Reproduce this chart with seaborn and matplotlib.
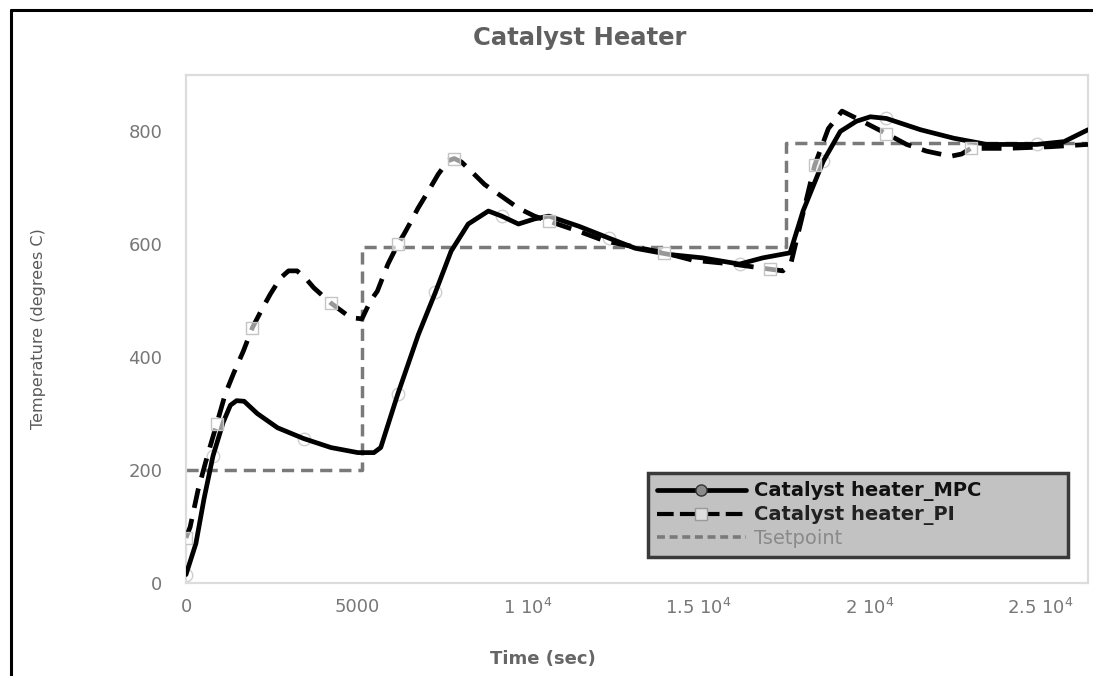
import matplotlib
matplotlib.use("Agg")
import matplotlib.pyplot as plt
from matplotlib.lines import Line2D
import seaborn as sns
import numpy as np

# Catalyst heater temperature response, MPC vs PI control
mpc_time = [0, 290, 530, 790, 1090, 1300, 1480, 1700, 2090, 2680, 3440, 4240,
            5030, 5500, 5700, 6200, 6800, 7300, 7760, 8260, 8850, 9240, 9730,
            10200, 10620, 11500, 12380, 13150, 14150, 15120, 16200, 16880,
            17680, 18060, 18650, 19150, 19620, 20030, 20500, 21500, 22470,
            23440, 24900, 25700, 26300, 26400]
mpc_temp = [15, 70, 150, 225, 285, 315, 323, 322, 300, 275, 256, 240,
            231, 231, 240, 335, 440, 515, 588, 636, 659, 650, 636,
            645, 650, 632, 611, 593, 582, 576, 565, 576,
            585, 659, 747, 800, 818, 826, 823, 803, 788,
            777, 777, 782, 800, 803]

pi_time = [0, 120, 350, 610, 900, 1150, 1390, 1680, 1940, 2240, 2470, 2760,
           3000, 3250, 3500, 3740, 4240, 4820, 5150, 5400, 5600, 5910, 6200,
           6380, 6590, 6790, 7090, 7380, 7670, 7850, 8060, 8270, 8740, 9240,
           9730, 10200, 10620, 11500, 12260, 13000, 14000, 14820, 16000,
           17090, 17470, 17700, 18000, 18400, 18800, 19200, 19700, 20500,
           21090, 21680, 22380, 22700, 22970, 24030, 25320, 26400]
pi_temp = [80, 99, 164, 222, 282, 335, 371, 411, 452, 487, 512, 540,
           553, 553, 540, 523, 496, 470, 468, 500, 517, 565, 600,
           618, 641, 664, 694, 724, 748, 752, 746, 734, 706, 685,
           664, 650, 641, 623, 606, 597, 585, 572, 565,
           556, 553, 565, 640, 740, 805, 836, 821, 796,
           777, 765, 756, 760, 770, 770, 773, 777]

sp_time = [0, 5150, 17550, 26400]
sp_temp = [200, 595, 780, 780]

x_ticks = [0, 5000, 10000, 15000, 20000, 25000]
x_tick_labels = ["0", "5000", "1 10$^4$", "1.5 10$^4$", "2 10$^4$", "2.5 10$^4$"]
y_ticks = [0, 200, 400, 600, 800]

series_labels = ["Catalyst heater_MPC", "Catalyst heater_PI", "Tsetpoint"]

sns.set_theme(style="white")
plt.rcParams["font.family"] = ["DejaVu Sans"]
plt.rcParams["mathtext.fontset"] = "dejavusans"

fig = plt.figure(figsize=(10.93, 6.76), dpi=100)
ax = fig.add_axes([186 / 1093, 1 - 583 / 676, 902 / 1093, 508 / 676])

# setpoint staircase
sns.lineplot(x=sp_time, y=sp_temp, ax=ax, color="#7a7a7a", lw=2.5,
             drawstyle="steps-post", zorder=2)
ax.lines[-1].set_dashes([3.5, 2.0])

# MPC: faint circle markers under the solid line
sns.lineplot(x=mpc_time, y=mpc_temp, ax=ax, color="black", lw=0, zorder=2.5)
mk = ax.lines[-1]
mk.set_marker("o")
mk.set_markevery(0.12)
mk.set_markersize(9)
mk.set_markerfacecolor("white")
mk.set_markeredgecolor("#cfcfcf")
mk.set_markeredgewidth(1.0)
sns.lineplot(x=mpc_time, y=mpc_temp, ax=ax, color="black", lw=3.4, zorder=3)

# PI: long dashes with pale square markers
sns.lineplot(x=pi_time, y=pi_temp, ax=ax, color="black", lw=3.4, zorder=3)
pl = ax.lines[-1]
pl.set_dashes([4.2, 2.4])
pl.set_marker("s")
pl.set_markevery(0.11)
pl.set_markersize(9)
pl.set_markerfacecolor((1, 1, 1, 0.6))
pl.set_markeredgecolor("#c4c4c4")
pl.set_markeredgewidth(1.0)

ax.set_xlim(0, 26400)
ax.set_ylim(0, 900)
ax.set_xticks(x_ticks)
ax.set_xticklabels(x_tick_labels)
ax.set_yticks(y_ticks)
ax.tick_params(axis="both", length=0, labelsize=13, labelcolor="#777777")
ax.tick_params(axis="y", pad=17)
ax.tick_params(axis="x", pad=11)
for s in ax.spines.values():
    s.set_color("#dcdcdc")
    s.set_linewidth(1.6)
ax.grid(False)
ax.set_facecolor("white")

ax.set_xlabel("Time (sec)", fontsize=13, fontweight="bold", color="#666666")
ax.xaxis.set_label_coords((543 - 186) / 902, -(650 - 583) / 508)
ax.set_ylabel("Temperature (degrees C)", fontsize=11.5, color="#5a5a5a")
ax.yaxis.set_label_coords(-(186 - 46) / 902, 0.5)

fig.text(580 / 1093, 1 - 38 / 676, "Catalyst Heater", ha="center", va="center",
         fontsize=17.5, fontweight="bold", color="#606060")

handles = [
    Line2D([], [], color="black", lw=3.4, marker="o", markersize=8,
           markerfacecolor="#8a8a8a", markeredgecolor="#333333"),
    Line2D([], [], color="black", lw=3.0, linestyle=(0, (4, 1.5)), marker="s",
           markersize=8, markerfacecolor="#dddddd", markeredgecolor="#999999"),
    Line2D([], [], color="#7a7a7a", lw=2.6, linestyle=(0, (2.2, 1.3))),
]
leg = ax.legend(handles, series_labels, loc="lower left",
                bbox_to_anchor=((648 - 186) / 902, (583 - 557) / 508,
                                (1068 - 648) / 902, 0.18),
                mode="expand", fontsize=14, handlelength=4.6, handletextpad=0.4,
                labelspacing=0.2, borderpad=0.45, fancybox=False, framealpha=1,
                facecolor="#c2c2c2", edgecolor="#3a3a3a", borderaxespad=0)
leg.get_frame().set_linewidth(2.5)
for txt, col, w in zip(leg.get_texts(), ["#111111", "#222222", "#8a8a8a"],
                       ["bold", "bold", "normal"]):
    txt.set_color(col)
    txt.set_fontweight(w)

# outer border
fig.add_artist(Line2D([11 / 1093, 1], [1 - 10 / 676, 1 - 10 / 676],
                      transform=fig.transFigure, color="black", lw=2.2))
fig.add_artist(Line2D([11 / 1093, 11 / 1093], [0, 1 - 10 / 676],
                      transform=fig.transFigure, color="black", lw=2.2))

fig.savefig("out.png", dpi=100)
